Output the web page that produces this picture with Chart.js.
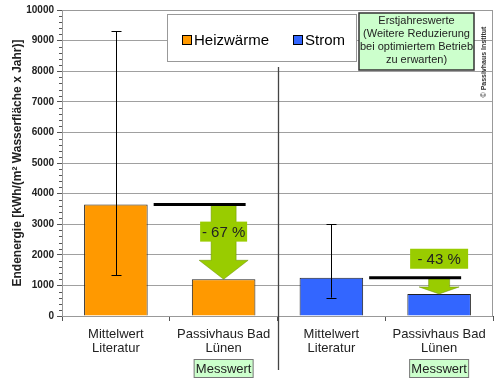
<!DOCTYPE html>
<html>
<head>
<meta charset="utf-8">
<script src="https://cdn.jsdelivr.net/npm/chart.js@4.4.0/dist/chart.umd.min.js"></script>
<style>
  body { margin: 0; background: #fff; }
  #wrap { width: 500px; height: 382px; }
</style>
</head>
<body>
<div id="wrap"><canvas id="energie" width="500" height="382"></canvas></div>
<script>
// Werte
var kategorien = [['Mittelwert', 'Literatur'], ['Passivhaus Bad', 'Lünen'], ['Mittelwert', 'Literatur'], ['Passivhaus Bad', 'Lünen']];
var heizwaerme = [3640, 1200, null, null];
var strom = [null, null, 1250, 720];
var fehlerOben = [9300, null, 3000, null];
var fehlerUnten = [1330, null, 600, null];
var messwert = [false, true, false, true];
var einsparung = [
  { von: 0, nach: 1, text: '- 67 %' },
  { von: 2, nach: 3, text: '- 43 %' }
];
var hinweis = ['Erstjahreswerte', '(Weitere Reduzierung', 'bei optimiertem Betrieb', 'zu erwarten)'];

var ORANGE = '#FF9900', BLAU = '#3366FF', GRUEN = '#99CC00', HELLGRUEN = '#CCFFCC';
var FONT = '"Liberation Sans", Arial, sans-serif';

// Pfeil-Stile (Breite Schaft / Spitze, Länge Spitze, Label-Box)
var pfeilStil = [
  { schaft: 25, spitze: 49, spitzeLen: 19, boxW: 47, boxDy: 27 },
  { schaft: 21, spitze: 40, spitzeLen: 7, boxW: 58, boxDy: -19 }
];

function wert(i) {
  return heizwaerme[i] != null ? heizwaerme[i] : strom[i];
}

var extras = {
  id: 'extras',
  beforeDatasetsDraw: function (chart) {
    var ctx = chart.ctx, a = chart.chartArea, y = chart.scales.y;
    // Rahmen der Zeichenfläche
    ctx.save();
    ctx.strokeStyle = '#999';
    ctx.lineWidth = 1;
    ctx.strokeRect(a.left + 0.5, a.top + 0.5, a.right - a.left - 1, a.bottom - a.top);
    // kleine Striche an der y-Achse
    ctx.strokeStyle = '#555';
    for (var v = 0; v <= 10000; v += 200) {
      if (v % 1000 === 0) continue;
      var py = Math.round(y.getPixelForValue(v)) + 0.5;
      ctx.beginPath();
      ctx.moveTo(a.left - 3, py);
      ctx.lineTo(a.left, py);
      ctx.stroke();
    }
    ctx.restore();
  },
  afterDatasetsDraw: function (chart) {
    var ctx = chart.ctx, y = chart.scales.y;
    var bars = chart.getDatasetMeta(0).data.map(function (b, i) {
      return b && heizwaerme[i] != null ? b : chart.getDatasetMeta(1).data[i];
    });
    ctx.save();
    // Fehlerbalken
    ctx.strokeStyle = '#000';
    ctx.lineWidth = 1;
    for (var i = 0; i < fehlerOben.length; i++) {
      if (fehlerOben[i] == null) continue;
      var x = Math.round(bars[i].x) + 0.5;
      var y1 = y.getPixelForValue(fehlerOben[i]), y2 = y.getPixelForValue(fehlerUnten[i]);
      ctx.beginPath();
      ctx.moveTo(x, y1); ctx.lineTo(x, y2);
      ctx.moveTo(x - 5, Math.round(y1) + 0.5); ctx.lineTo(x + 5, Math.round(y1) + 0.5);
      ctx.moveTo(x - 5, Math.round(y2) + 0.5); ctx.lineTo(x + 5, Math.round(y2) + 0.5);
      ctx.stroke();
    }
    // Einsparpfeile
    einsparung.forEach(function (e, k) {
      var s = pfeilStil[k];
      var cx = bars[e.nach].x;
      var yRef = y.getPixelForValue(wert(e.von));
      var yZiel = y.getPixelForValue(wert(e.nach));
      var yKopf = yZiel - s.spitzeLen;
      ctx.fillStyle = GRUEN;
      ctx.strokeStyle = '#6b8f00';
      ctx.lineWidth = 0.5;
      ctx.beginPath();
      ctx.moveTo(cx - s.schaft / 2, yRef);
      ctx.lineTo(cx + s.schaft / 2, yRef);
      ctx.lineTo(cx + s.schaft / 2, yKopf);
      ctx.lineTo(cx + s.spitze / 2, yKopf);
      ctx.lineTo(cx, yZiel);
      ctx.lineTo(cx - s.spitze / 2, yKopf);
      ctx.lineTo(cx - s.schaft / 2, yKopf);
      ctx.closePath();
      ctx.fill();
      ctx.stroke();
      // Bezugslinie
      var xl = bars[e.von].x + bars[e.von].width / 2 + 6;
      ctx.strokeStyle = '#000';
      ctx.lineWidth = 3;
      ctx.beginPath();
      ctx.moveTo(xl, yRef);
      ctx.lineTo(cx + 22, yRef);
      ctx.stroke();
      // Label
      var by = yRef + s.boxDy;
      ctx.fillStyle = GRUEN;
      ctx.fillRect(cx - s.boxW / 2, by - 10, s.boxW, 20);
      ctx.fillStyle = '#222';
      ctx.font = '15px ' + FONT;
      ctx.textAlign = 'center';
      ctx.textBaseline = 'middle';
      ctx.fillText(e.text, cx, by + 1);
    });
    ctx.restore();
  },
  afterDraw: function (chart) {
    var ctx = chart.ctx, x = chart.scales.x;
    ctx.save();
    // Trennlinie zwischen Heizwärme und Strom
    var mx = Math.round((x.getPixelForValue(1) + x.getPixelForValue(2)) / 2) + 0.5;
    ctx.strokeStyle = '#444';
    ctx.lineWidth = 1.3;
    ctx.beginPath();
    ctx.moveTo(mx, 67);
    ctx.lineTo(mx, 370);
    ctx.stroke();

    // Legende
    ctx.fillStyle = '#fff';
    ctx.fillRect(167.5, 14.5, 189, 47);
    ctx.strokeStyle = '#999';
    ctx.lineWidth = 1;
    ctx.strokeRect(167.5, 14.5, 189, 47);
    ctx.font = '15px ' + FONT;
    ctx.textBaseline = 'middle';
    ctx.textAlign = 'left';
    var leg = [[chart.data.datasets[0], 182], [chart.data.datasets[1], 293]];
    leg.forEach(function (l) {
      ctx.fillStyle = l[0].backgroundColor;
      ctx.fillRect(l[1] + 0.5, 35.5, 9, 9);
      ctx.strokeStyle = '#000';
      ctx.strokeRect(l[1] + 0.5, 35.5, 9, 9);
      ctx.fillStyle = '#000';
      ctx.fillText(l[0].label, l[1] + 12, 40.5);
    });

    // Hinweisbox
    ctx.fillStyle = HELLGRUEN;
    ctx.fillRect(359, 13, 115, 57);
    ctx.strokeStyle = '#333';
    ctx.lineWidth = 1.5;
    ctx.strokeRect(359, 13, 115, 57);
    ctx.fillStyle = '#222';
    ctx.font = '11px ' + FONT;
    ctx.textAlign = 'center';
    hinweis.forEach(function (t, i) {
      ctx.fillText(t, 416.5, 20.5 + i * 13.2);
    });

    // Messwert-Kästchen
    ctx.font = '13px ' + FONT;
    messwert.forEach(function (m, i) {
      if (!m) return;
      var cx = x.getPixelForValue(i);
      ctx.fillStyle = HELLGRUEN;
      ctx.fillRect(cx - 29.5, 359.5, 59, 18);
      ctx.strokeStyle = '#777';
      ctx.lineWidth = 1;
      ctx.strokeRect(cx - 29.5, 359.5, 59, 18);
      ctx.fillStyle = '#222';
      ctx.fillText('Messwert', cx, 369);
    });

    // Copyright
    ctx.translate(484, 62);
    ctx.rotate(-Math.PI / 2);
    ctx.font = 'bold 7px ' + FONT;
    ctx.fillStyle = '#333';
    ctx.fillText('© Passivhaus Institut', 0, 0);
    ctx.restore();
  }
};

var ctx = document.getElementById('energie');
new Chart(ctx, {
  type: 'bar',
  data: {
    labels: kategorien,
    datasets: [{
      label: 'Heizwärme',
      data: heizwaerme,
      backgroundColor: ORANGE,
      borderColor: '#222',
      borderWidth: 1
    }, {
      label: 'Strom',
      data: strom,
      backgroundColor: BLAU,
      borderColor: '#222',
      borderWidth: 1
    }]
  },
  options: {
    responsive: false,
    animation: false,
    layout: { padding: { top: 10, right: 7, left: 0, bottom: 0 } },
    datasets: { bar: { grouped: false, barPercentage: 0.59, categoryPercentage: 1 } },
    plugins: { legend: { display: false }, tooltip: { enabled: false } },
    scales: {
      x: {
        afterFit: function (s) { s.height = 66; },
        grid: { offset: true, drawOnChartArea: false, tickLength: 5, tickColor: '#555' },
        border: { color: '#444' },
        ticks: { color: '#222', padding: 6, maxRotation: 0, font: { family: FONT, size: 13, lineHeight: 1.1 } }
      },
      y: {
        min: 0, max: 10000,
        afterFit: function (s) { s.width = 62; },
        ticks: {
          stepSize: 1000, padding: 3, color: '#222',
          font: { family: FONT, size: 10, weight: 'bold' },
          callback: function (v) { return String(v); }
        },
        grid: { color: '#a0a0a0', tickLength: 5, tickColor: '#555' },
        border: { color: '#444' },
        title: {
          display: true,
          text: 'Endenergie [kWh/(m² Wasserfläche x Jahr)]',
          color: '#222',
          padding: { top: 10, bottom: 0 },
          font: { family: FONT, size: 12, weight: 'bold' }
        }
      }
    }
  },
  plugins: [extras]
});
</script>
</body>
</html>
